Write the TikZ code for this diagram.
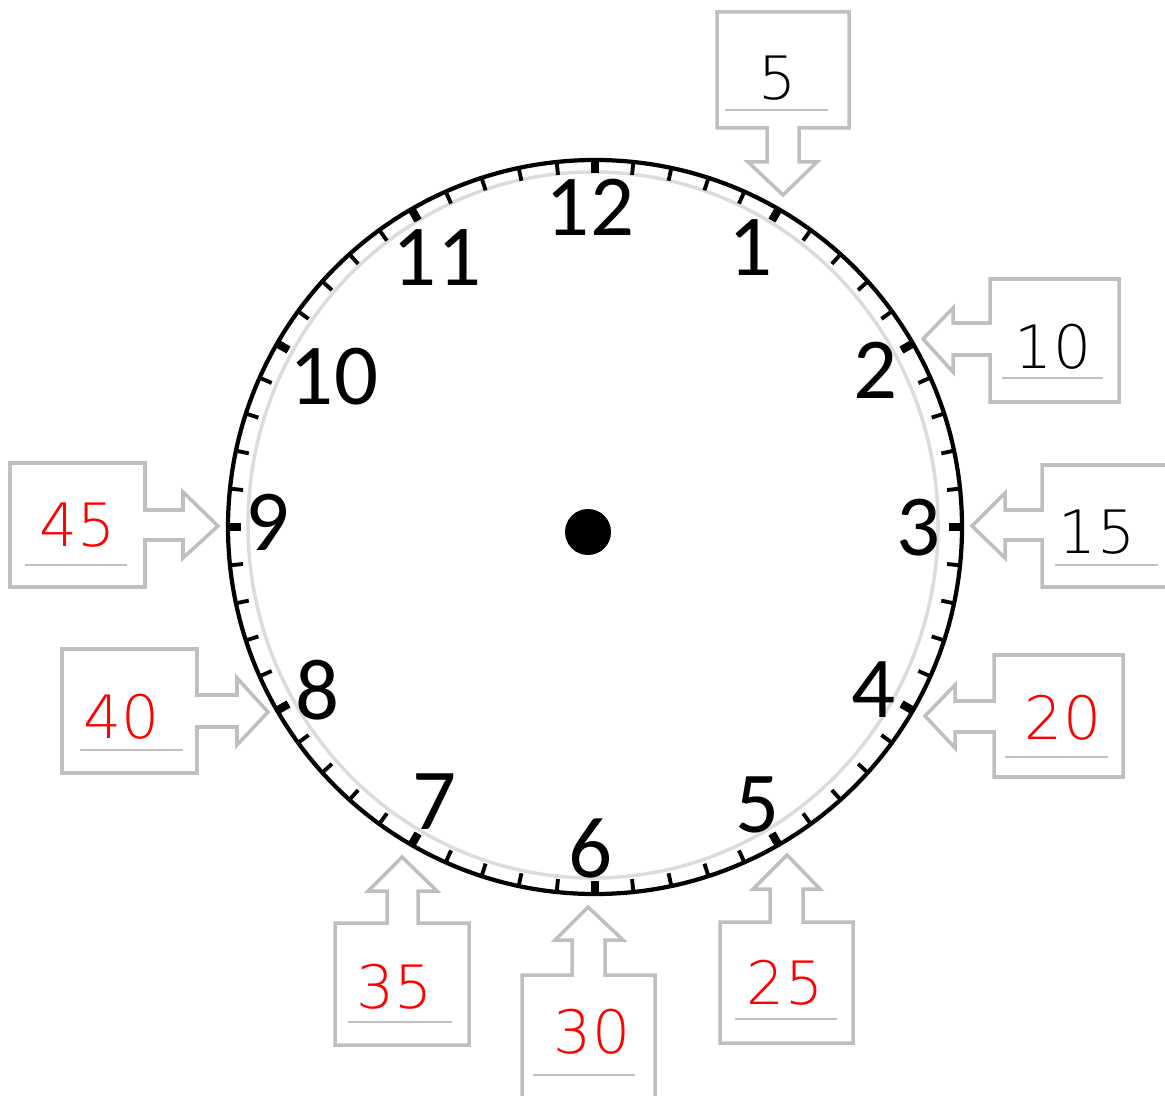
\documentclass[tikz,border=0pt]{standalone}
\usepackage{fontspec}
\setmainfont{Carlito}
\newfontfamily\handfont{DejaVu Sans ExtraLight}
\usepackage{tikz}
\definecolor{boxgray}{HTML}{BFBFBF}
\definecolor{rimgray}{HTML}{DCDCDC}
\definecolor{answerred}{HTML}{FF0000}

\begin{document}
\begin{tikzpicture}[x=0.01cm,y=-0.01cm,line join=miter,
  callout/.style={draw=boxgray,line width=1pt,fill=white},
  underline/.style={draw=boxgray,line width=0.7pt},
  answer/.style={font=\handfont\fontsize{17}{20}\selectfont,inner sep=0pt},
  hour/.style={font=\fontsize{24.7}{30}\selectfont,inner sep=0pt}]
  \useasboundingbox (0,0) rectangle (1165,1095);

  % clock face
  \draw[rimgray,line width=1pt] (593,525) ellipse [x radius=345,y radius=353];
  \draw[line width=1.2pt] (595,527) circle [radius=367];
  \begin{scope}[shift={(595,527)}]
    \foreach \m in {0,...,59}
      \draw[line width=1.1pt] (\m*6-90:354) -- (\m*6-90:367);
    \foreach \h in {0,...,11}
      \draw[line width=2.3pt] (\h*30-90:354) -- (\h*30-90:367);
  \end{scope}
  \fill (588,532) circle [radius=23];
  \foreach \n/\x/\y in {12/590/207,1/750/248,2/875/370,3/918/528,
    4/873/690,5/757/805,6/590/848,7/435/802,8/318/690,9/268/522,
    10/334/377,11/437/258}
    \node[hour] (h\n) at (\x,\y) {\n};

  % callouts pointing down
  \draw[callout] (717,12) -- (849,12) -- (849,128) -- (799,128) -- (799,162)
    -- (817,162) -- (783,195) -- (748,162) -- (767,162) -- (767,128)
    -- (717,128) -- cycle;
  \draw[underline] (725,110) -- (828,110);
  \node[answer] (a5) at (777,78) {5};

  % callouts pointing left
  \draw[callout] (990,279) -- (1119,279) -- (1119,402) -- (990,402) -- (990,355)
    -- (953,355) -- (953,372) -- (923,339) -- (953,308) -- (953,323)
    -- (990,323) -- cycle;
  \draw[underline] (1002,378) -- (1103,378);
  \node[answer] (a10) at (1053,347) {10};

  \draw[callout] (1166,465) -- (1042,465) -- (1042,510) -- (1005,510)
    -- (1005,493) -- (972,526) -- (1005,558) -- (1005,540) -- (1042,540)
    -- (1042,587) -- (1166,587);
  \draw[underline] (1055,565) -- (1158,565);
  \node[answer] (a15) at (1097,532) {15};

  \draw[callout] (994,655) -- (1123,655) -- (1123,777) -- (994,777) -- (994,732)
    -- (955,732) -- (955,748) -- (925,716) -- (955,685) -- (955,701)
    -- (994,701) -- cycle;
  \draw[underline] (1005,757) -- (1108,757);
  \node[answer,text=answerred] (a20) at (1063,718) {20};

  % callouts pointing up
  \draw[callout] (720,1043) -- (853,1043) -- (853,922) -- (803,922) -- (803,889)
    -- (820,889) -- (787,855) -- (753,889) -- (770,889) -- (770,922)
    -- (720,922) -- cycle;
  \draw[underline] (735,1019) -- (837,1019);
  \node[answer,text=answerred] (a25) at (785,983) {25};

  \draw[callout] (522,1096) -- (522,975) -- (572,975) -- (572,940) -- (555,940)
    -- (588,907) -- (623,940) -- (605,940) -- (605,975) -- (655,975)
    -- (655,1096);
  \draw[underline] (533,1075) -- (635,1075);
  \node[answer,text=answerred] (a30) at (592,1032) {30};

  \draw[callout] (335,1045) -- (469,1045) -- (469,923) -- (418,923) -- (418,891)
    -- (437,891) -- (402,857) -- (368,891) -- (387,891) -- (387,923)
    -- (335,923) -- cycle;
  \draw[underline] (348,1022) -- (452,1022);
  \node[answer,text=answerred] (a35) at (395,987) {35};

  % callouts pointing right
  \draw[callout] (62,649) -- (197,649) -- (197,695) -- (237,695) -- (237,678)
    -- (268,712) -- (237,745) -- (237,727) -- (197,727) -- (197,773)
    -- (62,773) -- cycle;
  \draw[underline] (80,750) -- (183,750);
  \node[answer,text=answerred] (a40) at (122,717) {40};

  \draw[callout] (10,463) -- (145,463) -- (145,510) -- (183,510) -- (183,492)
    -- (218,526) -- (183,558) -- (183,540) -- (145,540) -- (145,587)
    -- (10,587) -- cycle;
  \draw[underline] (25,565) -- (127,565);
  \node[answer,text=answerred] (a45) at (78,525) {45};
\end{tikzpicture}
\end{document}
